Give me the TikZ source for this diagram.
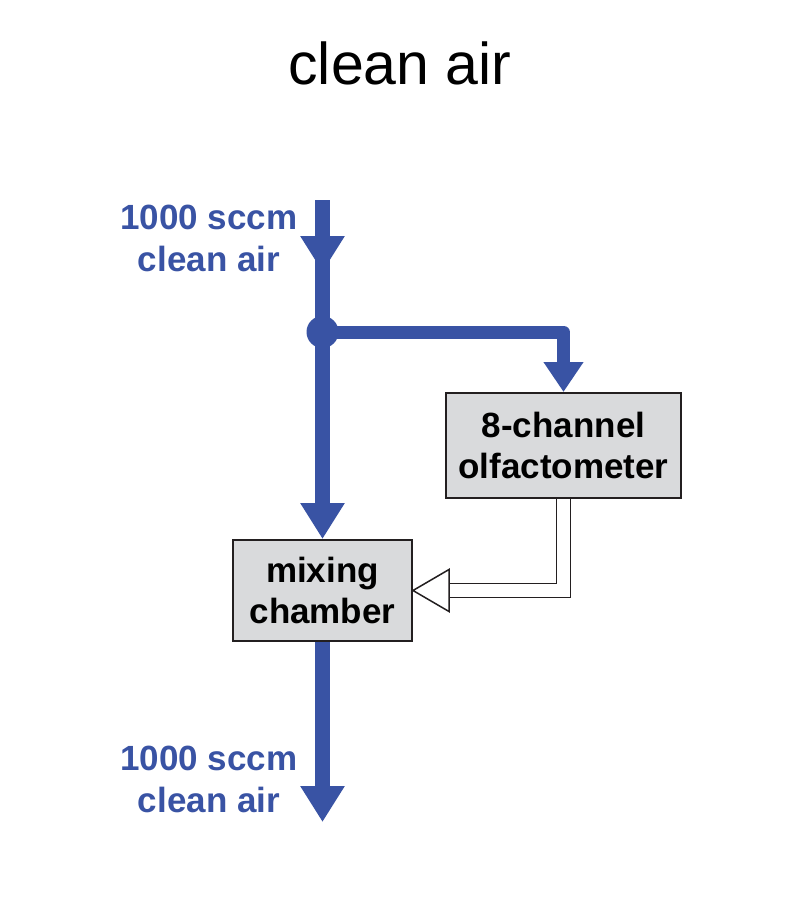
\documentclass[tikz,border=0pt]{standalone}
\usepackage{fontspec}
\setmainfont{Liberation Sans}
\usetikzlibrary{arrows.meta,calc}
\definecolor{flowblue}{RGB}{57,83,164}
\definecolor{boxgray}{RGB}{217,218,220}
\definecolor{boxline}{RGB}{35,31,32}
\pgfdeclarelayer{paper}
\pgfdeclarelayer{bg}
\pgfsetlayers{paper,bg,main}
\tikzset{
  flowlabel/.style={text=flowblue, font=\bfseries\fontsize{35}{42}\selectfont, align=center, inner sep=0pt},
  boxnode/.style={draw=boxline, fill=boxgray, line width=2pt, inner sep=0pt, align=center,
    font=\bfseries\fontsize{35}{41}\selectfont},
  mainflow/.style={draw=flowblue, line width=15pt},
  branchflow/.style={draw=flowblue, line width=13pt, line join=round},
  bigtip/.style={-{Triangle[width=42pt,length=36pt]}},
  smalltip/.style={-{Triangle[width=38pt,length=30pt]}},
  odorline/.style={draw=boxline, double=white, double distance=12.5pt, line width=1.5pt, line join=miter},
  odortip/.style={draw=boxline, fill=white, line width=1.5pt, line join=miter}
}
\begin{document}
\begin{tikzpicture}[x=1pt,y=-1pt]
\begin{pgfonlayer}{paper}
\fill[white] (0,0) rectangle (800,900);
\end{pgfonlayer}
\useasboundingbox (0,0) rectangle (800,900);
\node[anchor=base, font=\fontsize{59}{70}\selectfont, inner sep=0pt] (title) at (400,84) {clean air};
\node[flowlabel] (inlabel) at (209,238.5) {1000 sccm\\clean air};
\node[flowlabel] (outlabel) at (209,779.5) {1000 sccm\\clean air};
\node[boxnode, minimum width=235pt, minimum height=105pt] (olf) at (563.5,445.5) {8-channel\\olfactometer};
\node[boxnode, minimum width=179pt, minimum height=101pt] (mix) at (322.5,590.5) {mixing\\chamber};
\coordinate (top) at (322.5,200);
\coordinate (toptip) at (322.5,272);
\coordinate (dot) at (322.5,332);
\coordinate (bottom) at (322.5,822);
\coordinate (odorend) at ($(mix.east)+(36,0)$);
\begin{pgfonlayer}{bg}
  \draw[mainflow] (top) -- (dot);
  \draw[mainflow, bigtip] (top) -- (toptip);
  \draw[mainflow, bigtip] (dot) -- (mix.north);
  \draw[mainflow, bigtip] (mix.south) -- (bottom);
  \draw[branchflow, smalltip] (dot) -| (olf.north);
  \fill[flowblue] (dot) circle (16pt);
  \draw[odorline] (olf.south) |- (odorend);
\end{pgfonlayer}
\draw[odortip] (mix.east) -- ($(mix.east)+(36,-21)$) -- ($(mix.east)+(36,21)$) -- cycle;
\end{tikzpicture}
\end{document}
